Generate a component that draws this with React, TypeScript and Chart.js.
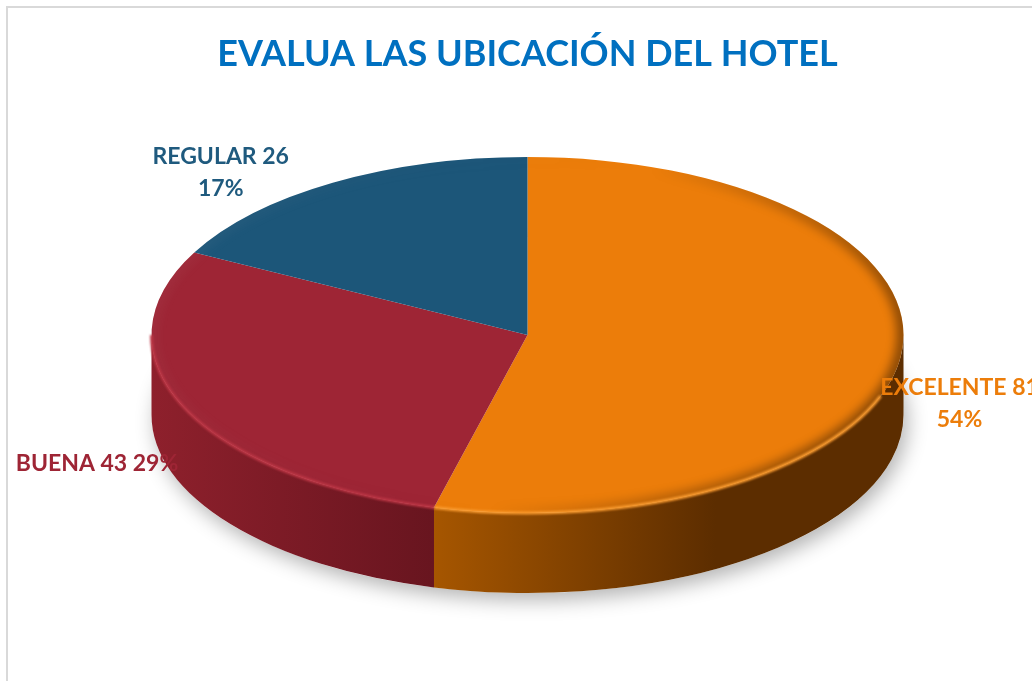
import React, { useEffect, useRef } from "react";
import { Chart, registerables } from "chart.js";

Chart.register(...registerables);

const TITLE = "EVALUA LAS UBICACIÓN DEL HOTEL";
const categories = ["EXCELENTE", "BUENA", "REGULAR"];
const counts = [81, 43, 26];
const breakLabel = [true, false, true];

const topColors = ["#EC7D0A", "#9E2535", "#1C5679"];
const sideLight = ["#A65600", "#8E202C", "#14405B"];
const sideDark = ["#5C2D00", "#68151F", "#0E2E42"];
const sideDarkAt = [0.6, 1, 1];
const rimColors = ["#F99A2E", "#BC3645", "#2A6C94"];
const labelColors = ["#EC7D0A", "#9E2535", "#1F5A7E"];
const labelNudge = [
  [59, 46],
  [-87, 56],
  [-112, -10],
];

const PIE = { cy: 335, rx: 376, ry: 178, depth: 80 };
const LABEL_FONT = "bold 23px Lato";
const LINE_H = 32;

const total = counts.reduce((a, b) => a + b, 0);
const percents = counts.map((c) => Math.round((c / total) * 100) + "%");

const pie3d = {
  id: "pie3d",
  beforeDatasetsDraw(chart: any) {
    const ctx: CanvasRenderingContext2D = chart.ctx;
    const arcs = chart.getDatasetMeta(0).data as any[];
    if (!arcs.length) return;
    const a0 = arcs[0];
    const cx = (chart.chartArea.left + chart.chartArea.right) / 2;
    const { cy, rx, ry, depth } = PIE;

    // soft shadow under the pie
    ctx.save();
    ctx.beginPath();
    ctx.ellipse(cx, cy + depth, rx, ry, 0, 0, Math.PI * 2);
    ctx.fillStyle = "#ffffff";
    ctx.shadowColor = "rgba(0,0,0,0.30)";
    ctx.shadowBlur = 20;
    ctx.shadowOffsetX = 4;
    ctx.shadowOffsetY = 7;
    ctx.fill();
    ctx.restore();

    // front side walls
    arcs.forEach((arc: any, i: number) => {
      const { startAngle, endAngle } = arc.getProps(["startAngle", "endAngle"], true);
      for (const k of [-2, 0, 2]) {
        const lo = Math.max(startAngle, k * Math.PI);
        const hi = Math.min(endAngle, (k + 1) * Math.PI);
        if (hi <= lo) continue;
        const x1 = cx + rx * Math.cos(lo);
        const x2 = cx + rx * Math.cos(hi);
        const xmin = Math.min(x1, x2, lo <= Math.PI * (k + 1) && hi >= Math.PI * (k + 1) ? cx - rx : Infinity);
        const xmax = Math.max(x1, x2, lo <= Math.PI * k && hi >= Math.PI * k ? cx + rx : -Infinity);
        ctx.save();
        ctx.beginPath();
        ctx.ellipse(cx, cy, rx, ry, 0, lo, hi);
        ctx.ellipse(cx, cy + depth, rx, ry, 0, hi, lo, true);
        ctx.closePath();
        const g = ctx.createLinearGradient(xmin, 0, xmax, 0);
        g.addColorStop(0, sideLight[i]);
        g.addColorStop(sideDarkAt[i], sideDark[i]);
        g.addColorStop(1, sideDark[i]);
        ctx.fillStyle = g;
        ctx.fill();
        ctx.restore();
      }
    });

    // flatten the circle into the top face ellipse
    ctx.save();
    const R = a0.outerRadius;
    ctx.translate(cx, cy);
    ctx.scale(rx / R, ry / R);
    ctx.translate(-a0.x, -a0.y);
  },
  afterDatasetsDraw(chart: any) {
    const ctx: CanvasRenderingContext2D = chart.ctx;
    ctx.restore();
    const arcs = chart.getDatasetMeta(0).data as any[];
    if (!arcs.length) return;
    const cx = (chart.chartArea.left + chart.chartArea.right) / 2;
    const { cy, rx, ry } = PIE;

    // bevel shading on the top face
    ctx.save();
    ctx.beginPath();
    ctx.ellipse(cx, cy, rx, ry, 0, 0, Math.PI * 2);
    ctx.clip();
    ctx.filter = "blur(5px)";
    const bg = ctx.createLinearGradient(cx - rx, cy - ry, cx + rx, cy + ry);
    bg.addColorStop(0, "rgba(255,255,255,0.05)");
    bg.addColorStop(0.55, "rgba(0,0,0,0)");
    bg.addColorStop(1, "rgba(0,0,0,0.5)");
    ctx.strokeStyle = bg;
    ctx.lineWidth = 14;
    ctx.beginPath();
    ctx.ellipse(cx, cy, rx, ry, 0, 0, Math.PI * 2);
    ctx.stroke();
    ctx.restore();

    // light rim along the front edge
    arcs.forEach((arc: any, i: number) => {
      const { startAngle, endAngle } = arc.getProps(["startAngle", "endAngle"], true);
      for (const k of [-2, 0, 2]) {
        const lo = Math.max(startAngle, k * Math.PI + 0.35);
        const hi = Math.min(endAngle, (k + 1) * Math.PI);
        if (hi <= lo) continue;
        ctx.save();
        ctx.beginPath();
        ctx.ellipse(cx, cy, rx, ry, 0, lo, hi);
        ctx.strokeStyle = rimColors[i];
        ctx.lineWidth = 3;
        ctx.filter = "blur(1px)";
        ctx.stroke();
        ctx.restore();
      }
    });

    // data labels
    ctx.save();
    ctx.font = LABEL_FONT;
    ctx.textAlign = "center";
    ctx.textBaseline = "middle";
    arcs.forEach((arc: any, i: number) => {
      const { startAngle, endAngle } = arc.getProps(["startAngle", "endAngle"], true);
      const m = (startAngle + endAngle) / 2;
      const ax = cx + rx * Math.cos(m) + labelNudge[i][0];
      const ay = cy + ry * Math.sin(m) + labelNudge[i][1];
      const lines = breakLabel[i]
        ? [categories[i] + " " + counts[i], percents[i]]
        : [categories[i] + " " + counts[i] + " " + percents[i]];
      ctx.fillStyle = labelColors[i];
      lines.forEach((t, j) => {
        ctx.fillText(t, ax, ay + (j - (lines.length - 1) / 2) * LINE_H);
      });
    });
    ctx.restore();
  },
};

export default function App() {
  const ref = useRef<HTMLCanvasElement>(null);
  useEffect(() => {
    if (!ref.current) return;
    const chart = new Chart(ref.current, {
      type: "pie",
      data: {
        labels: categories,
        datasets: [
          {
            data: counts,
            backgroundColor: topColors,
            borderWidth: 0,
            clip: false as any,
          },
        ],
      },
      options: {
        responsive: false,
        animation: false,
        events: [],
        layout: { padding: { left: 23, right: 0, top: 10, bottom: 10 } },
        plugins: {
          legend: { display: false },
          tooltip: { enabled: false },
          title: {
            display: true,
            text: TITLE,
            color: "#0070C0",
            font: { family: "Lato", size: 36, weight: "bold" },
            padding: { top: 23, bottom: 10 },
          },
        },
      },
      plugins: [pie3d],
    });
    return () => chart.destroy();
  }, []);

  return (
    <div
      style={{
        position: "fixed",
        left: 0,
        top: 0,
        width: 1032,
        height: 681,
        overflow: "hidden",
        background: "#ffffff",
      }}
    >
      <div
        style={{
          position: "absolute",
          left: 6,
          top: 6,
          width: 1200,
          height: 900,
          border: "2px solid #d9d9d9",
          boxSizing: "border-box",
        }}
      />
      <canvas
        ref={ref}
        width={1032}
        height={681}
        style={{ position: "absolute", left: 0, top: 0, width: 1032, height: 681 }}
      />
    </div>
  );
}
